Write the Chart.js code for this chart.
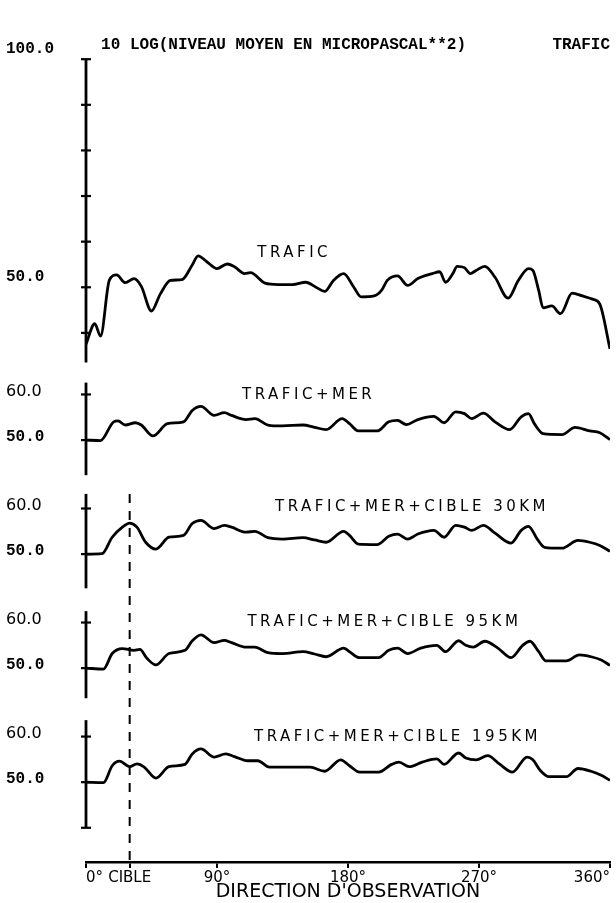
<!DOCTYPE html>
<html>
<head>
<meta charset="utf-8">
<script src="https://cdn.jsdelivr.net/npm/chart.js@4.4.1/dist/chart.umd.min.js"></script>
<style>
  html, body { margin: 0; padding: 0; background: #fff; overflow: hidden; }
  canvas { display: block; }
</style>
</head>
<body>
<canvas id="directivite" width="616" height="903"></canvas>
<script>
// direction d'observation (degres) and level, 10 log(niveau moyen en microPa^2)
const angTrafic = [0, 6, 10, 16, 21, 27, 33, 38, 45, 51, 58, 66, 73, 77, 83, 90, 97, 102, 109, 113,
  123, 132, 142, 151, 158, 164, 170, 177, 184, 189, 198, 203, 207, 214, 221, 228, 238, 243, 247, 252,
  255, 260, 264, 268, 274, 281, 290, 297, 304, 307, 311, 314, 320, 326, 334, 341, 348, 353, 360];
const lvlTrafic = [37.5, 42.0, 39.3, 51.5, 52.7, 51.0, 51.9, 50.2, 44.8, 48.5, 51.5, 51.7, 54.9, 56.9, 55.6, 54.1, 55.1, 54.5, 53.0, 53.2,
  50.9, 50.6, 50.6, 51.1, 50.0, 49.1, 51.5, 53.0, 50.0, 47.9, 48.1, 49.3, 51.5, 52.5, 50.4, 51.9, 53.0, 53.4, 51.1, 53.0,
  54.6, 54.3, 53.0, 53.7, 54.6, 52.2, 47.6, 51.5, 54.1, 53.7, 49.3, 45.5, 45.9, 44.2, 48.7, 48.1, 47.4, 46.3, 36.5];

const angMer = [0, 10, 19, 22, 27, 34, 38, 46, 56, 67, 73, 79, 88, 95, 100, 110, 116, 125, 135, 149,
  157, 165, 176, 181, 187, 200, 208, 214, 220, 228, 239, 246, 254, 260, 265, 273, 281, 291, 299, 304,
  308, 314, 327, 336, 346, 353, 360];
const lvlMer = [50.0, 49.9, 54.0, 54.2, 53.3, 53.8, 53.3, 50.9, 53.6, 54.0, 56.5, 57.4, 55.4, 56.0, 55.4, 54.5, 54.7, 53.3, 53.1, 53.3,
  52.8, 52.3, 54.7, 53.6, 52.0, 52.0, 54.0, 54.3, 53.4, 54.5, 55.2, 53.8, 56.2, 55.8, 54.7, 55.9, 54.0, 52.3, 55.1, 55.8,
  53.6, 51.4, 51.2, 52.8, 52.0, 51.6, 50.1];

const angCible30 = [0, 11, 18, 25, 30, 35, 41, 48, 57, 67, 73, 79, 88, 95, 100, 110, 116, 125, 135, 149,
  157, 165, 177, 181, 187, 200, 208, 214, 221, 228, 239, 246, 254, 260, 265, 273, 281, 292, 299, 304,
  310, 315, 327, 338, 346, 353, 360];
const lvlCible30 = [50.0, 50.1, 53.7, 55.9, 56.8, 55.9, 52.6, 51.1, 53.7, 54.1, 56.7, 57.4, 55.6, 56.3, 55.9, 54.8, 55.0, 53.6, 53.3, 53.6,
  53.1, 52.6, 55.0, 54.1, 52.2, 52.1, 53.9, 54.4, 53.3, 54.4, 55.2, 53.7, 56.3, 55.9, 55.2, 56.3, 54.6, 52.4, 55.2, 56.1,
  53.3, 51.5, 51.3, 53.0, 52.6, 51.9, 50.6];

const angCible95 = [0, 12, 18, 25, 33, 37, 42, 48, 57, 68, 73, 79, 88, 95, 100, 110, 116, 125, 135, 149,
  157, 165, 177, 181, 188, 201, 208, 214, 221, 230, 241, 247, 256, 261, 266, 274, 283, 292, 300, 305,
  311, 316, 330, 339, 347, 354, 360];
const lvlCible95 = [50.0, 49.8, 53.2, 54.3, 53.9, 54.1, 52.1, 50.7, 53.2, 53.9, 56.0, 57.3, 55.6, 56.1, 55.6, 54.6, 54.6, 53.4, 53.2, 53.6,
  53.1, 52.5, 54.4, 53.6, 52.3, 52.3, 53.9, 54.4, 53.2, 54.4, 55.0, 53.6, 56.0, 55.0, 54.6, 55.9, 54.4, 52.3, 55.0, 55.9,
  53.6, 51.6, 51.6, 52.9, 52.5, 51.8, 50.6];

const angCible195 = [0, 12, 18, 23, 30, 35, 40, 48, 57, 68, 73, 79, 88, 96, 102, 111, 118, 126, 141, 154,
  164, 175, 181, 188, 201, 210, 215, 222, 231, 241, 246, 256, 261, 268, 276, 284, 293, 303, 307, 312,
  318, 330, 338, 347, 354, 360];
const lvlCible195 = [50.0, 49.9, 53.6, 54.6, 53.4, 54.0, 53.3, 50.9, 53.4, 53.9, 56.2, 57.3, 55.5, 56.2, 55.6, 54.7, 54.7, 53.3, 53.3, 53.3,
  52.4, 54.9, 53.6, 52.2, 52.2, 53.9, 54.4, 53.4, 54.4, 55.1, 53.9, 56.4, 55.3, 54.9, 55.8, 54.0, 52.2, 55.5, 54.9, 52.6,
  51.2, 51.2, 53.0, 52.4, 51.5, 50.4];

const seriesNames = ['TRAFIC', 'TRAFIC+MER', 'TRAFIC+MER+CIBLE 30KM', 'TRAFIC+MER+CIBLE 95KM', 'TRAFIC+MER+CIBLE 195KM'];
const cibleAngle = 30;

const xTickVals = [0, 30, 90, 180, 270, 360];
const xTickText = ['0°', 'CIBLE', '90°', '180°', '270°', '360°'];

const trafTickVals = [40, 50, 60, 70, 80, 90, 100];
const trafTickText = ['', '50.0', '', '', '', '', '100.0'];
const panelTickVals = [50, 60];
const panelTickText = ['50.0', '60.0'];

const headerText = '10 LOG(NIVEAU MOYEN EN MICROPASCAL**2)' + ' '.repeat(9) + 'TRAFIC';
const xTitle = "DIRECTION D'OBSERVATION";

// ---- layout (not data) ----
const panelIds = ['yT', 'yM', 'y30', 'y95', 'y195'];
const panelRange = { yT: [31.5, 100], yM: [40, 65], y30: [40, 65], y95: [40, 65], y195: [32.5, 65] };
const axisSpan = { yT: [33.5, 100], yM: [42.3, 62.6], y30: [42.5, 63.2], y95: [43.4, 62.5], y195: [40, 63.6] };
const axisCaps = { y195: [40] };
const labelAt = [[143, 57.4], [153, 59.9], [224, 60.4], [205, 60.2], [214, 59.8]];

const plotFont = { family: 'Liberation Mono', size: 16, weight: 'bold' };
const handFont = { family: 'DejaVu Sans', size: 16 };

const series = [
  [angTrafic, lvlTrafic], [angMer, lvlMer], [angCible30, lvlCible30],
  [angCible95, lvlCible95], [angCible195, lvlCible195]
];

function yScale(id, i) {
  const [min, max] = panelRange[id];
  const vals = id === 'yT' ? trafTickVals : panelTickVals;
  const text = id === 'yT' ? trafTickText : panelTickText;
  return {
    type: 'linear', position: 'left', stack: 'panels',
    stackWeight: max - min, weight: 10 - i,
    min: min, max: max,
    grid: { display: false },
    border: { display: false },
    afterBuildTicks: s => { s.ticks = vals.map(v => ({ value: v })); },
    afterFit: s => { s.width = 80; },
    ticks: {
      autoSkip: false,
      crossAlign: 'far',
      padding: 30,
      labelOffset: id === 'yT' ? -10 : -3,
      color: '#000',
      font: c => (c.tick && c.tick.value === 60 && id !== 'yT') ? handFont : plotFont,
      callback: v => { const k = vals.indexOf(v); return k >= 0 ? text[k] : ''; }
    }
  };
}

const scales = {
  x: {
    type: 'linear', position: 'bottom', min: 0, max: 360,
    afterBuildTicks: s => { s.ticks = xTickVals.map(v => ({ value: v })); },
    afterFit: s => { s.height = 41; },
    grid: { drawOnChartArea: false, drawTicks: true, tickLength: 6, color: '#000', lineWidth: 2 },
    border: { display: true, color: '#000', width: 2.6 },
    ticks: {
      align: 'inner', padding: 1, autoSkip: false, maxRotation: 0, color: '#000',
      font: { family: 'DejaVu Sans', size: 15 },
      callback: v => xTickText[xTickVals.indexOf(v)]
    },
    title: {
      display: true, text: xTitle, color: '#000',
      font: { family: 'DejaVu Sans', size: 19 },
      padding: { top: 0, bottom: 0 }
    }
  }
};
panelIds.forEach((id, i) => { scales[id] = yScale(id, i); });

const decor = {
  id: 'decor',
  afterDatasetsDraw(chart) {
    const { ctx, chartArea } = chart;
    const sc = chart.scales;
    const x0 = chartArea.left;
    ctx.save();
    ctx.strokeStyle = '#000';
    panelIds.forEach(id => {
      const s = sc[id];
      const [lo, hi] = axisSpan[id];
      ctx.lineWidth = 2.8;
      ctx.beginPath();
      ctx.moveTo(x0, s.getPixelForValue(lo));
      ctx.lineTo(x0, s.getPixelForValue(hi));
      ctx.stroke();
      ctx.lineWidth = 2.2;
      s.ticks.map(t => t.value).concat(axisCaps[id] || []).forEach(v => {
        const y = s.getPixelForValue(v);
        ctx.beginPath();
        ctx.moveTo(x0 - 5, y);
        ctx.lineTo(x0 + 5, y);
        ctx.stroke();
      });
    });

    // target direction
    const xc = sc.x.getPixelForValue(cibleAngle);
    ctx.setLineDash([9, 8]);
    ctx.lineWidth = 2;
    ctx.beginPath();
    ctx.moveTo(xc, sc.y30.getPixelForValue(63.2));
    ctx.lineTo(xc, chartArea.bottom);
    ctx.stroke();
    ctx.setLineDash([]);

    // curve names
    ctx.fillStyle = '#000';
    ctx.font = '15px "DejaVu Sans"';
    ctx.letterSpacing = '3.5px';
    ctx.textAlign = 'center';
    ctx.textBaseline = 'middle';
    seriesNames.forEach((name, i) => {
      const [a, v] = labelAt[i];
      ctx.fillText(name, sc.x.getPixelForValue(a), sc[panelIds[i]].getPixelForValue(v));
    });
    ctx.restore();
  }
};

new Chart(document.getElementById('directivite'), {
  type: 'line',
  data: {
    datasets: series.map(([ang, lvl], i) => ({
      label: seriesNames[i],
      data: ang.map((a, k) => ({ x: a, y: lvl[k] })),
      yAxisID: panelIds[i],
      borderColor: '#000',
      borderWidth: 2.8,
      pointRadius: 0,
      cubicInterpolationMode: 'monotone',
      fill: false
    }))
  },
  options: {
    responsive: false,
    animation: false,
    layout: { padding: { left: 6, right: 6, top: 0, bottom: 0 } },
    scales: scales,
    plugins: {
      legend: { display: false },
      tooltip: { enabled: false },
      title: {
        display: true, text: headerText, align: 'end', color: '#000',
        font: { family: 'Liberation Mono', size: 16, weight: 'bold' },
        padding: { top: 35, bottom: 5 }
      }
    }
  },
  plugins: [decor]
});
</script>
</body>
</html>
